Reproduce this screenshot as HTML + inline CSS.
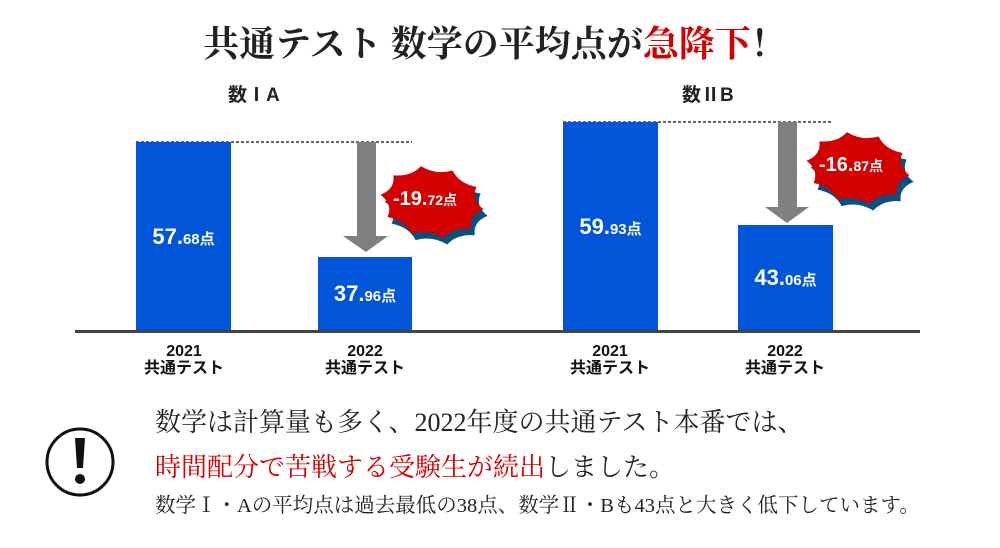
<!DOCTYPE html>
<html><head><meta charset="utf-8"><style>
body{margin:0;width:1000px;height:548px;background:#fff;overflow:hidden;position:relative;font-family:"Liberation Sans","Noto Sans CJK JP",sans-serif}
.a{position:absolute;white-space:nowrap}
.serif{font-family:"Liberation Serif","Noto Serif CJK SC",serif}
.bar{position:absolute;background:#0055d9;color:#fff;font-weight:bold;text-align:center}
.bar span{position:absolute;left:0;right:0;top:50%;transform:translateY(-50%);font-size:22px}
.bar small{font-size:15px}
.lab{position:absolute;width:120px;text-align:center;font-weight:bold;font-size:16px;line-height:17px;color:#111}
</style></head><body>
<div class="a serif" style="left:0;width:990px;text-align:center;top:16px;font-size:36px;font-weight:bold;color:#222">共通テスト 数学の平均点が<span style="color:#d40000">急降下</span>！</div>
<div class="a" style="left:228px;top:80px;font-size:19px;font-weight:bold;color:#222">数ⅠA</div>
<div class="a" style="left:682px;top:80px;font-size:19px;font-weight:bold;color:#222">数ⅡB</div>
<svg class="a" style="left:0;top:0" width="1000" height="548">
<defs><path id="b" d="M52,0 Q38,8 42,21 Q24,22 16,34 Q0,27 -16,34 Q-24,22 -42,21 Q-38,8 -52,0 Q-38,-8 -42,-21 Q-24,-22 -16,-34 Q0,-27 16,-34 Q24,-22 42,-21 Q38,-8 52,0Z"/></defs>
<line x1="136" y1="142" x2="412" y2="142" stroke="#333" stroke-width="1.5" stroke-dasharray="3,2"/>
<line x1="563" y1="122" x2="833" y2="122" stroke="#333" stroke-width="1.5" stroke-dasharray="3,2"/>
<polygon points="357,142 376,142 376,236 388,236 366,252 343,236 357,236" fill="#808080"/>
<polygon points="778,122 797,122 797,207 809,207 787,223 765,207 778,207" fill="#808080"/>
<g transform="translate(432,202) rotate(8)">
<use href="#b" transform="translate(5,6)" fill="#0a4f7e"/><use href="#b" fill="#d40000"/></g>
<g transform="translate(858,168) rotate(8)">
<use href="#b" transform="translate(5,6)" fill="#0a4f7e"/><use href="#b" fill="#d40000"/></g>
<circle cx="80" cy="462" r="33" fill="none" stroke="#111" stroke-width="3"/>
<polygon points="75,438 85,438 83,468 77,468" fill="#111"/>
<circle cx="80" cy="479" r="5" fill="#111"/>
</svg>
<div class="bar" style="left:136px;top:142px;width:95px;height:189px"><span>57.<small>68点</small></span></div>
<div class="bar" style="left:318px;top:257px;width:94px;height:74px"><span>37.<small>96点</small></span></div>
<div class="bar" style="left:563px;top:122px;width:95px;height:209px"><span>59.<small>93点</small></span></div>
<div class="bar" style="left:738px;top:225px;width:95px;height:106px"><span>43.<small>06点</small></span></div>
<div class="a" style="left:75px;top:330px;width:845px;height:3px;background:#444"></div>
<div class="a" style="left:393px;top:188px;font-size:20px;font-weight:bold;color:#fff">-19.<span style="font-size:14px">72点</span></div>
<div class="a" style="left:819px;top:154px;font-size:20px;font-weight:bold;color:#fff">-16.<span style="font-size:14px">87点</span></div>
<div class="lab" style="left:124px;top:343px">2021<br>共通テスト</div>
<div class="lab" style="left:305px;top:343px">2022<br>共通テスト</div>
<div class="lab" style="left:550px;top:343px">2021<br>共通テスト</div>
<div class="lab" style="left:725px;top:343px">2022<br>共通テスト</div>
<div class="a serif" style="left:155px;top:402px;font-size:26px;color:#222">数学は計算量も多く、2022年度の共通テスト本番では、</div>
<div class="a serif" style="left:155px;top:447px;font-size:26px;color:#222"><span style="color:#d40000">時間配分で苦戦する受験生が続出</span>しました。</div>
<div class="a serif" style="left:155px;top:488px;font-size:20.5px;color:#222">数学Ⅰ・Aの平均点は過去最低の38点、数学Ⅱ・Bも43点と大きく低下しています。</div>
</body></html>
